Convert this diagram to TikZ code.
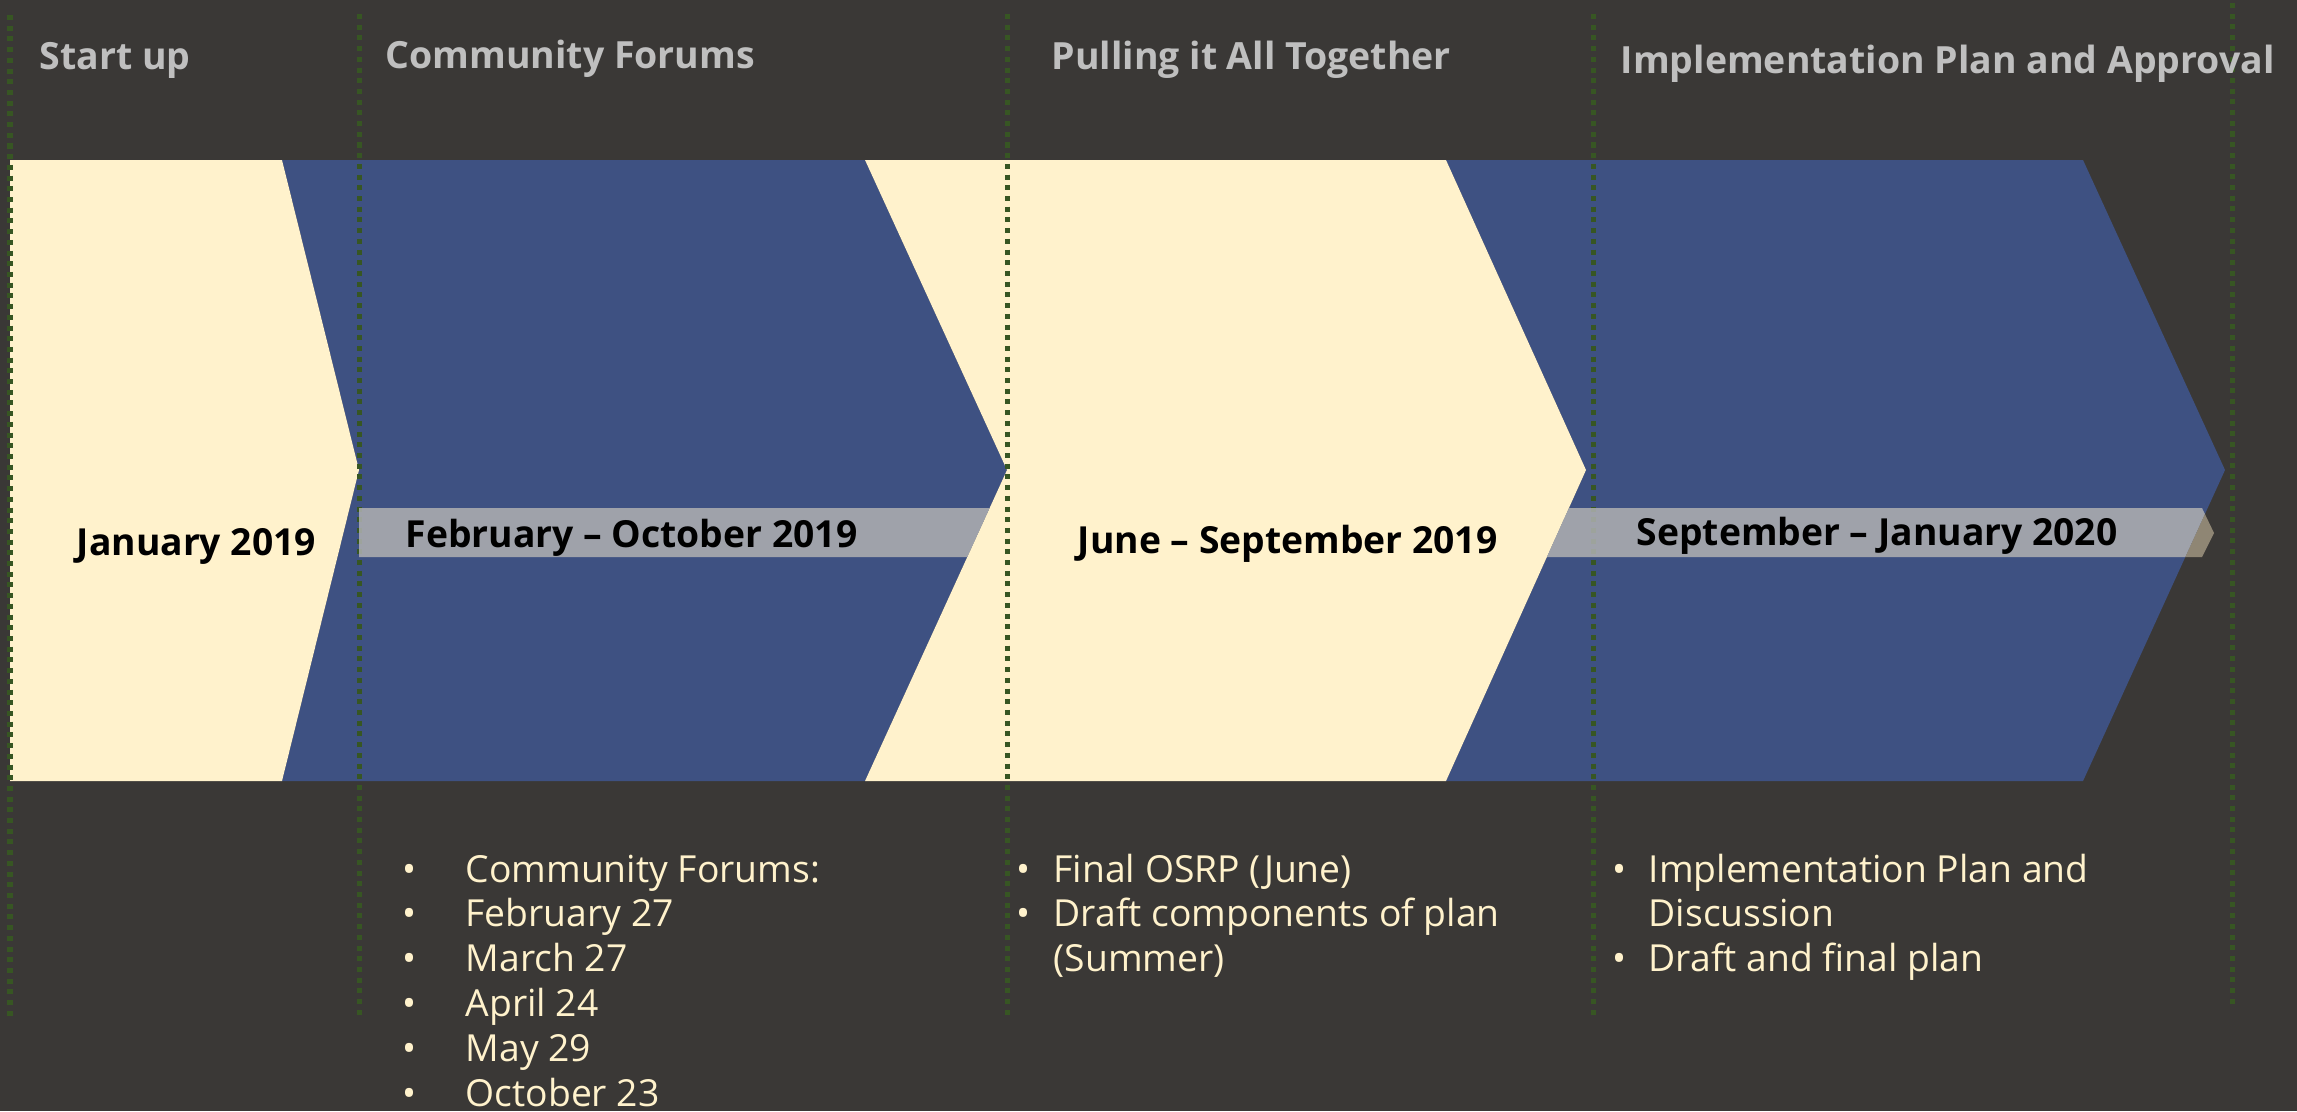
\documentclass[tikz,border=0pt]{standalone}
\usepackage{fontspec}
\setmainfont{Open Sans}
\definecolor{bg}{HTML}{3A3836}
\definecolor{chevblue}{HTML}{3E5182}
\definecolor{cream}{HTML}{FFF2CC}
\definecolor{headgray}{HTML}{BFBFBF}
\definecolor{guidegreen}{HTML}{375623}
\definecolor{bargray}{HTML}{B0B1B2}
\definecolor{bartan}{HTML}{9E9480}
\begin{document}
\begin{tikzpicture}[x=0.01cm,y=-0.01cm,
  heading/.style={anchor=base west, inner sep=0pt, text=headgray, font=\fontsize{10.65}{13}\selectfont\bfseries},
  datelbl/.style={anchor=base west, inner sep=0pt, text=black, font=\fontsize{10.6}{12}\selectfont\bfseries},
  bodytxt/.style={anchor=base west, inner sep=0pt, text=cream, font=\fontsize{10.6}{12.7}\selectfont},
  bulletmk/.style={anchor=base, inner sep=0pt, text=cream, font=\fontsize{10.6}{12.7}\selectfont},
  guide/.style={draw=guidegreen, line width=0.05cm, dash pattern=on 0.05cm off 0.057cm},
  creamshape/.style={fill=cream},
  blueshape/.style={fill=chevblue},
  barfill/.style={fill opacity=0.85}]
\fill[bg] (0,0) rectangle (2297,1111);
\useasboundingbox (0,0) rectangle (2297,1111);
% chevrons
\fill[blueshape] (282,160) -- (865,160) -- (1007,470) -- (865,781) -- (282,781) -- (359,470) -- cycle;
\fill[blueshape] (1446,160) -- (2083,160) -- (2225,470) -- (2083,781) -- (1446,781) -- (1586,470) -- cycle;
\fill[creamshape] (10,160) -- (282,160) -- (359,470) -- (282,781) -- (10,781) -- cycle;
\fill[creamshape] (865,160) -- (1446,160) -- (1586,470) -- (1446,781) -- (865,781) -- (1007,470) -- cycle;
% guide lines
\coordinate (g1t) at (10,15);   \coordinate (g1b) at (10,1018);
\coordinate (g2t) at (359,14);  \coordinate (g2b) at (359,1018);
\coordinate (g3t) at (1007,14); \coordinate (g3b) at (1007,1018);
\coordinate (g4t) at (1593,14); \coordinate (g4b) at (1593,1018);
\coordinate (g5t) at (2232,3);  \coordinate (g5b) at (2232,1008);
\foreach \n in {1,...,5} { \draw[guide] (g\n t) -- (g\n b); }
% bars
\fill[bargray, barfill] (359,508) -- (989.6,508) -- (967.3,557) -- (359,557) -- cycle;
\begin{scope}
  \clip (1446,160) -- (2083,160) -- (2225,470) -- (2083,781) -- (1446,781) -- (1586,470) -- cycle;
  \fill[bargray, barfill] (1568.9,508) -- (2202,508) -- (2214,533) -- (2202,557) -- (1546.8,557) -- cycle;
\end{scope}
\begin{scope}
  \clip (2225,470) -- (2400,470) -- (2400,781) -- (2083,781) -- cycle;
  \fill[bartan, barfill] (1568.9,508) -- (2202,508) -- (2214,533) -- (2202,557) -- (1546.8,557) -- cycle;
\end{scope}
% headings
\node[heading] (h1) at (39,69) {Start up};
\node[heading] (h2) at (385,68) {Community Forums};
\node[heading] (h3) at (1051,69) {Pulling it All Together};
\node[heading] (h4) at (1620,73) {Implementation Plan and Approval};
% date labels
\node[datelbl] (d1) at (76,555) {January 2019};
\node[datelbl] (d2) at (405,547) {February – October 2019};
\node[datelbl] (d3) at (1077,553) {June – September 2019};
\node[datelbl] (d4) at (1636,545) {September – January 2020};
% column 2 list
\foreach \t [count=\i from 0] in {Community Forums:, February 27, March 27, April 24, May 29, October 23} {
  \node[bulletmk] (b2\i) at (410,882+44.8*\i) {•};
  \node[bodytxt] (t2\i) at (465,882+44.8*\i) {\t};
}
% column 3 list
\node[bulletmk] (b30) at (1023,882) {•};
\node[bodytxt] (t30) at (1053,882) {Final OSRP (June)};
\node[bulletmk] (b31) at (1023,926.8) {•};
\node[bodytxt] (t31) at (1053,926.8) {Draft components of plan};
\node[bodytxt] (t32) at (1053,971.6) {(Summer)};
% column 4 list
\node[bulletmk] (b40) at (1619,882) {•};
\node[bodytxt] (t40) at (1648,882) {Implementation Plan and};
\node[bodytxt] (t41) at (1648,926.8) {Discussion};
\node[bulletmk] (b42) at (1619,971.6) {•};
\node[bodytxt] (t42) at (1648,971.6) {Draft and final plan};
\end{tikzpicture}
\end{document}
